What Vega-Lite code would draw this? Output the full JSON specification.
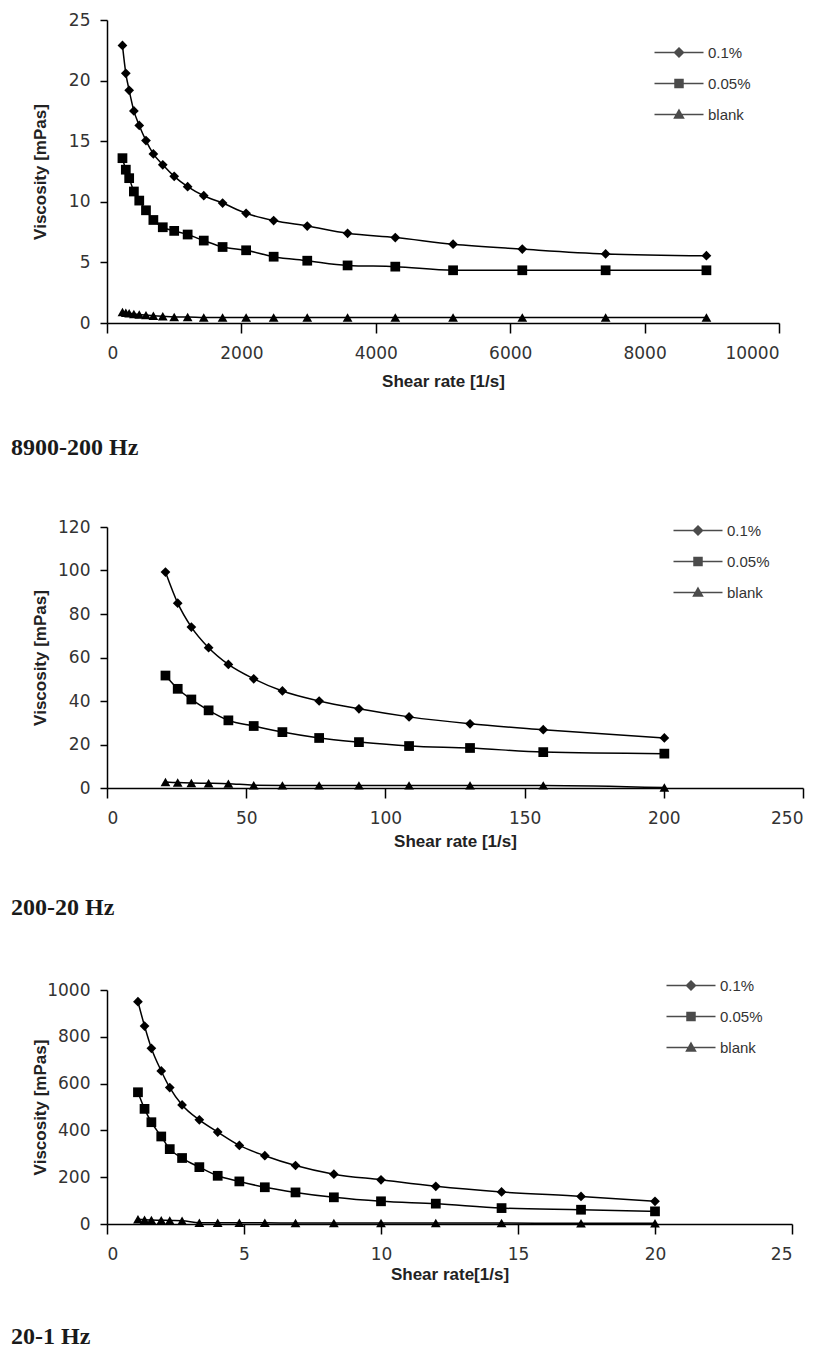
{
  "$schema": "https://vega.github.io/schema/vega-lite/v6.json",
  "padding": {"left": 10, "top": 11, "right": 5, "bottom": 0},
  "background": "white",
  "spacing": 58,
  "datasets": {
    "p1": [
      {"series": "0.1%", "shear": 230, "visc": 22.9}, {"series": "0.1%", "shear": 280, "visc": 20.6}, {"series": "0.1%", "shear": 330, "visc": 19.2}, {"series": "0.1%", "shear": 400, "visc": 17.5}, {"series": "0.1%", "shear": 480, "visc": 16.3}, {"series": "0.1%", "shear": 580, "visc": 15.05}, {"series": "0.1%", "shear": 690, "visc": 13.95}, {"series": "0.1%", "shear": 830, "visc": 13.05}, {"series": "0.1%", "shear": 1000, "visc": 12.1}, {"series": "0.1%", "shear": 1200, "visc": 11.25}, {"series": "0.1%", "shear": 1440, "visc": 10.5}, {"series": "0.1%", "shear": 1720, "visc": 9.9}, {"series": "0.1%", "shear": 2070, "visc": 9.05}, {"series": "0.1%", "shear": 2480, "visc": 8.45}, {"series": "0.1%", "shear": 2980, "visc": 8.0}, {"series": "0.1%", "shear": 3580, "visc": 7.4}, {"series": "0.1%", "shear": 4290, "visc": 7.05}, {"series": "0.1%", "shear": 5150, "visc": 6.5}, {"series": "0.1%", "shear": 6180, "visc": 6.1}, {"series": "0.1%", "shear": 7420, "visc": 5.7}, {"series": "0.1%", "shear": 8920, "visc": 5.55},
      {"series": "0.05%", "shear": 230, "visc": 13.6}, {"series": "0.05%", "shear": 280, "visc": 12.65}, {"series": "0.05%", "shear": 330, "visc": 11.95}, {"series": "0.05%", "shear": 400, "visc": 10.85}, {"series": "0.05%", "shear": 480, "visc": 10.1}, {"series": "0.05%", "shear": 580, "visc": 9.3}, {"series": "0.05%", "shear": 690, "visc": 8.5}, {"series": "0.05%", "shear": 830, "visc": 7.9}, {"series": "0.05%", "shear": 1000, "visc": 7.6}, {"series": "0.05%", "shear": 1200, "visc": 7.3}, {"series": "0.05%", "shear": 1440, "visc": 6.8}, {"series": "0.05%", "shear": 1720, "visc": 6.27}, {"series": "0.05%", "shear": 2070, "visc": 6.0}, {"series": "0.05%", "shear": 2480, "visc": 5.47}, {"series": "0.05%", "shear": 2980, "visc": 5.14}, {"series": "0.05%", "shear": 3580, "visc": 4.75}, {"series": "0.05%", "shear": 4290, "visc": 4.65}, {"series": "0.05%", "shear": 5150, "visc": 4.35}, {"series": "0.05%", "shear": 6180, "visc": 4.35}, {"series": "0.05%", "shear": 7420, "visc": 4.35}, {"series": "0.05%", "shear": 8920, "visc": 4.35},
      {"series": "blank", "shear": 230, "visc": 0.9}, {"series": "blank", "shear": 280, "visc": 0.85}, {"series": "blank", "shear": 330, "visc": 0.8}, {"series": "blank", "shear": 400, "visc": 0.75}, {"series": "blank", "shear": 480, "visc": 0.7}, {"series": "blank", "shear": 580, "visc": 0.65}, {"series": "blank", "shear": 690, "visc": 0.6}, {"series": "blank", "shear": 830, "visc": 0.55}, {"series": "blank", "shear": 1000, "visc": 0.5}, {"series": "blank", "shear": 1200, "visc": 0.5}, {"series": "blank", "shear": 1440, "visc": 0.45}, {"series": "blank", "shear": 1720, "visc": 0.45}, {"series": "blank", "shear": 2070, "visc": 0.45}, {"series": "blank", "shear": 2480, "visc": 0.45}, {"series": "blank", "shear": 2980, "visc": 0.45}, {"series": "blank", "shear": 3580, "visc": 0.45}, {"series": "blank", "shear": 4290, "visc": 0.45}, {"series": "blank", "shear": 5150, "visc": 0.45}, {"series": "blank", "shear": 6180, "visc": 0.45}, {"series": "blank", "shear": 7420, "visc": 0.45}, {"series": "blank", "shear": 8920, "visc": 0.45}
    ],
    "p2": [
      {"series": "0.1%", "shear": 21, "visc": 99.3}, {"series": "0.1%", "shear": 25.4, "visc": 85.0}, {"series": "0.1%", "shear": 30.3, "visc": 74.0}, {"series": "0.1%", "shear": 36.5, "visc": 64.5}, {"series": "0.1%", "shear": 43.6, "visc": 56.8}, {"series": "0.1%", "shear": 52.7, "visc": 50.2}, {"series": "0.1%", "shear": 63, "visc": 44.6}, {"series": "0.1%", "shear": 76.2, "visc": 40.0}, {"series": "0.1%", "shear": 90.5, "visc": 36.4}, {"series": "0.1%", "shear": 108.5, "visc": 32.7}, {"series": "0.1%", "shear": 130.4, "visc": 29.5}, {"series": "0.1%", "shear": 156.7, "visc": 26.8}, {"series": "0.1%", "shear": 200.2, "visc": 23.0},
      {"series": "0.05%", "shear": 21, "visc": 51.7}, {"series": "0.05%", "shear": 25.4, "visc": 45.6}, {"series": "0.05%", "shear": 30.3, "visc": 40.7}, {"series": "0.05%", "shear": 36.5, "visc": 35.7}, {"series": "0.05%", "shear": 43.6, "visc": 31.1}, {"series": "0.05%", "shear": 52.7, "visc": 28.5}, {"series": "0.05%", "shear": 63, "visc": 25.7}, {"series": "0.05%", "shear": 76.2, "visc": 23.0}, {"series": "0.05%", "shear": 90.5, "visc": 21.1}, {"series": "0.05%", "shear": 108.5, "visc": 19.3}, {"series": "0.05%", "shear": 130.4, "visc": 18.4}, {"series": "0.05%", "shear": 156.7, "visc": 16.5}, {"series": "0.05%", "shear": 200.2, "visc": 15.8},
      {"series": "blank", "shear": 21, "visc": 2.8}, {"series": "blank", "shear": 25.4, "visc": 2.5}, {"series": "blank", "shear": 30.3, "visc": 2.3}, {"series": "blank", "shear": 36.5, "visc": 2.2}, {"series": "blank", "shear": 43.6, "visc": 2.0}, {"series": "blank", "shear": 52.7, "visc": 1.3}, {"series": "blank", "shear": 63, "visc": 1.2}, {"series": "blank", "shear": 76.2, "visc": 1.2}, {"series": "blank", "shear": 90.5, "visc": 1.2}, {"series": "blank", "shear": 108.5, "visc": 1.2}, {"series": "blank", "shear": 130.4, "visc": 1.2}, {"series": "blank", "shear": 156.7, "visc": 1.2}, {"series": "blank", "shear": 200.2, "visc": 0.2}
    ],
    "p3": [
      {"series": "0.1%", "shear": 1.13, "visc": 950}, {"series": "0.1%", "shear": 1.37, "visc": 846}, {"series": "0.1%", "shear": 1.62, "visc": 751}, {"series": "0.1%", "shear": 1.98, "visc": 654}, {"series": "0.1%", "shear": 2.29, "visc": 583}, {"series": "0.1%", "shear": 2.74, "visc": 509}, {"series": "0.1%", "shear": 3.37, "visc": 445}, {"series": "0.1%", "shear": 4.04, "visc": 393}, {"series": "0.1%", "shear": 4.83, "visc": 336}, {"series": "0.1%", "shear": 5.76, "visc": 292}, {"series": "0.1%", "shear": 6.88, "visc": 250}, {"series": "0.1%", "shear": 8.28, "visc": 213}, {"series": "0.1%", "shear": 10.0, "visc": 189}, {"series": "0.1%", "shear": 12.0, "visc": 161}, {"series": "0.1%", "shear": 14.4, "visc": 137}, {"series": "0.1%", "shear": 17.3, "visc": 118}, {"series": "0.1%", "shear": 20.0, "visc": 97},
      {"series": "0.05%", "shear": 1.13, "visc": 563}, {"series": "0.05%", "shear": 1.37, "visc": 492}, {"series": "0.05%", "shear": 1.62, "visc": 435}, {"series": "0.05%", "shear": 1.98, "visc": 374}, {"series": "0.05%", "shear": 2.29, "visc": 320}, {"series": "0.05%", "shear": 2.74, "visc": 282}, {"series": "0.05%", "shear": 3.37, "visc": 243}, {"series": "0.05%", "shear": 4.04, "visc": 206}, {"series": "0.05%", "shear": 4.83, "visc": 182}, {"series": "0.05%", "shear": 5.76, "visc": 157}, {"series": "0.05%", "shear": 6.88, "visc": 135}, {"series": "0.05%", "shear": 8.28, "visc": 114}, {"series": "0.05%", "shear": 10.0, "visc": 97}, {"series": "0.05%", "shear": 12.0, "visc": 87}, {"series": "0.05%", "shear": 14.4, "visc": 68}, {"series": "0.05%", "shear": 17.3, "visc": 61}, {"series": "0.05%", "shear": 20.0, "visc": 54},
      {"series": "blank", "shear": 1.13, "visc": 20}, {"series": "blank", "shear": 1.37, "visc": 18}, {"series": "blank", "shear": 1.62, "visc": 17}, {"series": "blank", "shear": 1.98, "visc": 16}, {"series": "blank", "shear": 2.29, "visc": 15}, {"series": "blank", "shear": 2.74, "visc": 14}, {"series": "blank", "shear": 3.37, "visc": 5}, {"series": "blank", "shear": 4.04, "visc": 5}, {"series": "blank", "shear": 4.83, "visc": 5}, {"series": "blank", "shear": 5.76, "visc": 5}, {"series": "blank", "shear": 6.88, "visc": 4}, {"series": "blank", "shear": 8.28, "visc": 4}, {"series": "blank", "shear": 10.0, "visc": 4}, {"series": "blank", "shear": 12.0, "visc": 4}, {"series": "blank", "shear": 14.4, "visc": 4}, {"series": "blank", "shear": 17.3, "visc": 3}, {"series": "blank", "shear": 20.0, "visc": 3}
    ]
  },
  "vconcat": [
    {
      "width": 672, "height": 303,
      "data": {"name": "p1"},
      "title": {"text": "8900-200 Hz"},
      "encoding": {
        "x": {"field": "shear", "type": "quantitative", "scale": {"domain": [0, 10000], "nice": false}, "axis": {"title": "Shear rate [1/s]", "values": [0, 2000, 4000, 6000, 8000, 10000], "format": "d", "titleY": 58}},
        "y": {"field": "visc", "type": "quantitative", "scale": {"domain": [0, 25], "nice": false}, "axis": {"title": "Viscosity [mPas]", "values": [0, 5, 10, 15, 20, 25]}}
      },
      "layer": [
        {"mark": {"type": "line", "interpolate": "monotone", "color": "black", "strokeWidth": 1.5}, "encoding": {"detail": {"field": "series", "type": "nominal"}}},
        {"mark": {"type": "point", "filled": true, "color": "black", "size": 95, "opacity": 1}, "encoding": {"shape": {"field": "series", "type": "nominal", "scale": {"domain": ["0.1%", "0.05%", "blank"], "range": ["diamond", "square", "triangle-up"]}, "legend": null}}},
        {"mark": {"type": "point", "filled": false, "color": "black", "strokeWidth": 1.5, "size": 0}, "encoding": {"shape": {"field": "series", "type": "nominal", "scale": {"domain": ["0.1%", "0.05%", "blank"], "range": ["M-8.8,0H1M-3.9,-0.9L-3,0L-3.9,0.9L-4.8,0ZM-4.05,-0.7H-3.75M-4.3,-0.45H-3.5M-4.55,-0.22H-3.25M-4.55,0.22H-3.25M-4.3,0.45H-3.5M-4.05,0.7H-3.75", "M-8.8,0H1M-4.7,-0.8H-3.1V0.8H-4.7ZM-4.7,-0.55H-3.1M-4.7,-0.28H-3.1M-4.7,0.28H-3.1M-4.7,0.55H-3.1", "M-8.8,0H1M-3.9,-0.9L-3,0.7H-4.8ZM-4.1,-0.5H-3.7M-4.3,-0.2H-3.5M-4.55,0.2H-3.25M-4.7,0.45H-3.1"]}, "legend": {"orient": "none", "legendX": 584, "legendY": 25}}}}
      ],
      "resolve": {"scale": {"shape": "independent"}}
    },
    {
      "width": 696, "height": 261,
      "data": {"name": "p2"},
      "title": {"text": "200-20 Hz"},
      "encoding": {
        "x": {"field": "shear", "type": "quantitative", "scale": {"domain": [0, 250], "nice": false}, "axis": {"title": "Shear rate [1/s]", "values": [0, 50, 100, 150, 200, 250], "format": "d", "titleY": 53}},
        "y": {"field": "visc", "type": "quantitative", "scale": {"domain": [0, 120], "nice": false}, "axis": {"title": "Viscosity [mPas]", "values": [0, 20, 40, 60, 80, 100, 120]}}
      },
      "layer": [
        {"mark": {"type": "line", "interpolate": "monotone", "color": "black", "strokeWidth": 1.5}, "encoding": {"detail": {"field": "series", "type": "nominal"}}},
        {"mark": {"type": "point", "filled": true, "color": "black", "size": 95, "opacity": 1}, "encoding": {"shape": {"field": "series", "type": "nominal", "scale": {"domain": ["0.1%", "0.05%", "blank"], "range": ["diamond", "square", "triangle-up"]}, "legend": null}}},
        {"mark": {"type": "point", "filled": false, "color": "black", "strokeWidth": 1.5, "size": 0}, "encoding": {"shape": {"field": "series", "type": "nominal", "scale": {"domain": ["0.1%", "0.05%", "blank"], "range": ["M-8.8,0H1M-3.9,-0.9L-3,0L-3.9,0.9L-4.8,0ZM-4.05,-0.7H-3.75M-4.3,-0.45H-3.5M-4.55,-0.22H-3.25M-4.55,0.22H-3.25M-4.3,0.45H-3.5M-4.05,0.7H-3.75", "M-8.8,0H1M-4.7,-0.8H-3.1V0.8H-4.7ZM-4.7,-0.55H-3.1M-4.7,-0.28H-3.1M-4.7,0.28H-3.1M-4.7,0.55H-3.1", "M-8.8,0H1M-3.9,-0.9L-3,0.7H-4.8ZM-4.1,-0.5H-3.7M-4.3,-0.2H-3.5M-4.55,0.2H-3.25M-4.7,0.45H-3.1"]}, "legend": {"orient": "none", "legendX": 603, "legendY": -4}}}}
      ],
      "resolve": {"scale": {"shape": "independent"}}
    },
    {
      "width": 685, "height": 234,
      "data": {"name": "p3"},
      "title": {"text": "20-1 Hz", "offset": 43},
      "encoding": {
        "x": {"field": "shear", "type": "quantitative", "scale": {"domain": [0, 25], "nice": false}, "axis": {"title": "Shear rate[1/s]", "values": [0, 5, 10, 15, 20, 25], "format": "d", "titleY": 50}},
        "y": {"field": "visc", "type": "quantitative", "scale": {"domain": [0, 1000], "nice": false}, "axis": {"title": "Viscosity [mPas]", "values": [0, 200, 400, 600, 800, 1000], "format": "d"}}
      },
      "layer": [
        {"mark": {"type": "line", "interpolate": "monotone", "color": "black", "strokeWidth": 1.5}, "encoding": {"detail": {"field": "series", "type": "nominal"}}},
        {"mark": {"type": "point", "filled": true, "color": "black", "size": 95, "opacity": 1}, "encoding": {"shape": {"field": "series", "type": "nominal", "scale": {"domain": ["0.1%", "0.05%", "blank"], "range": ["diamond", "square", "triangle-up"]}, "legend": null}}},
        {"mark": {"type": "point", "filled": false, "color": "black", "strokeWidth": 1.5, "size": 0}, "encoding": {"shape": {"field": "series", "type": "nominal", "scale": {"domain": ["0.1%", "0.05%", "blank"], "range": ["M-8.8,0H1M-3.9,-0.9L-3,0L-3.9,0.9L-4.8,0ZM-4.05,-0.7H-3.75M-4.3,-0.45H-3.5M-4.55,-0.22H-3.25M-4.55,0.22H-3.25M-4.3,0.45H-3.5M-4.05,0.7H-3.75", "M-8.8,0H1M-4.7,-0.8H-3.1V0.8H-4.7ZM-4.7,-0.55H-3.1M-4.7,-0.28H-3.1M-4.7,0.28H-3.1M-4.7,0.55H-3.1", "M-8.8,0H1M-3.9,-0.9L-3,0.7H-4.8ZM-4.1,-0.5H-3.7M-4.3,-0.2H-3.5M-4.55,0.2H-3.25M-4.7,0.45H-3.1"]}, "legend": {"orient": "none", "legendX": 596, "legendY": -12}}}}
      ],
      "resolve": {"scale": {"shape": "independent"}}
    }
  ],
  "config": {
    "view": {"stroke": null},
    "axis": {"grid": false, "domainColor": "black", "domainWidth": 1.5, "tickColor": "black", "tickWidth": 1.5, "labelFont": "DejaVu Sans", "labelFontSize": 17, "labelColor": "#333333", "titleFont": "Liberation Sans", "titleFontSize": 17, "titleFontWeight": "bold", "titleColor": "#222222"},
    "axisX": {"tickSize": 10, "labelPadding": 12, "titleBaseline": "middle"},
    "axisY": {"tickSize": 7, "labelPadding": 10, "titleX": -67, "titleBaseline": "middle", "titleAngle": -90},
    "legend": {"title": null, "labelFont": "Liberation Sans", "labelFontSize": 15, "labelColor": "#333333", "symbolSize": 100, "symbolStrokeWidth": 1.5, "rowPadding": 15, "labelOffset": 2, "padding": 0},
    "title": {"font": "Liberation Serif", "fontSize": 24, "fontWeight": "bold", "color": "#1a1a1a", "orient": "bottom", "anchor": "start", "dx": -20, "offset": 47}
  }
}
